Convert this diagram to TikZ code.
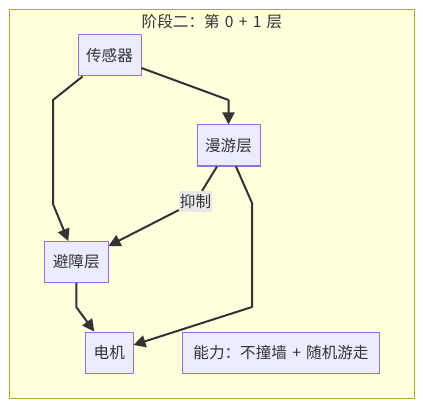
\documentclass[tikz,border=0pt]{standalone}
\usepackage{fontspec}
\setmainfont{Noto Sans CJK SC}[WordSpace=1.5]
\usetikzlibrary{arrows.meta}
\definecolor{textgrey}{HTML}{333333}
\definecolor{nodefill}{HTML}{ECECFF}
\definecolor{nodeline}{HTML}{9370DB}
\definecolor{clusterfill}{HTML}{FFFFDE}
\definecolor{clusterline}{HTML}{AAAA33}
\definecolor{labelfill}{HTML}{E8E8E8}
\tikzset{
  layerbox/.style={draw=nodeline, fill=nodefill, line width=1pt, text=textgrey,
    inner sep=0pt, minimum height=41pt},
  edgelabel/.style={fill=labelfill, text=textgrey, inner sep=1pt,
    minimum width=31pt, minimum height=21pt},
  edge/.style={draw=textgrey, line width=2pt, line join=round,
    -{Triangle[length=12pt,width=12pt]}},
}
\begin{document}
\begin{tikzpicture}[x=1pt,y=-1pt]
        \useasboundingbox (0,0) rectangle (423,409);
        {\fontsize{15.6}{18}\selectfont

        % Drawing cluster box and its title
        \draw [draw=clusterline, fill=clusterfill, line width=1pt] (9.5,10) rectangle (414.5,398);%
        \node [text=textgrey] (title) at (212,22) {阶段二：第 0 + 1 层};%

        % Drawing layer nodes
        \node [layerbox, minimum width=63pt] (sensor) at (109.5,55.5) {传感器};%
        \node [layerbox, minimum width=63pt] (wander) at (228.5,145.5) {漫游层};%
        \node [layerbox, minimum width=63.5pt] (avoid) at (76.25,262) {避障层};%
        \node [layerbox, minimum width=47.5pt] (motor) at (109.25,352.5) {电机};%
        \node [layerbox, minimum width=197pt] (note) at (281,352.5) {能力：不撞墙 + 随机游走};%

        % Drawing edge label
        \node [edgelabel] (suppress) at (195.5,201.5) {抑制};%

        % Drawing connectors
        \draw [edge] ([xshift=5pt]sensor.south west) -- (53,100) -- (53,204) -- ([xshift=-8pt]avoid.north);%
        \draw [edge] ([yshift=-12.5pt]sensor.east) -- (228.5,100) -- (wander.north);%
        \draw [edge] ([xshift=-11.5pt]wander.south) -- (suppress) -- ([yshift=-5pt]avoid.north east);%
        \draw [edge] ([xshift=7.5pt]wander.south) -- (252,203) -- (252,307) -- ([yshift=7.5pt]motor.east);%
        \draw [edge] (avoid.south) -- (76.25,307) -- ([xshift=-15pt]motor.north);%
        }
\end{tikzpicture}
\end{document}
